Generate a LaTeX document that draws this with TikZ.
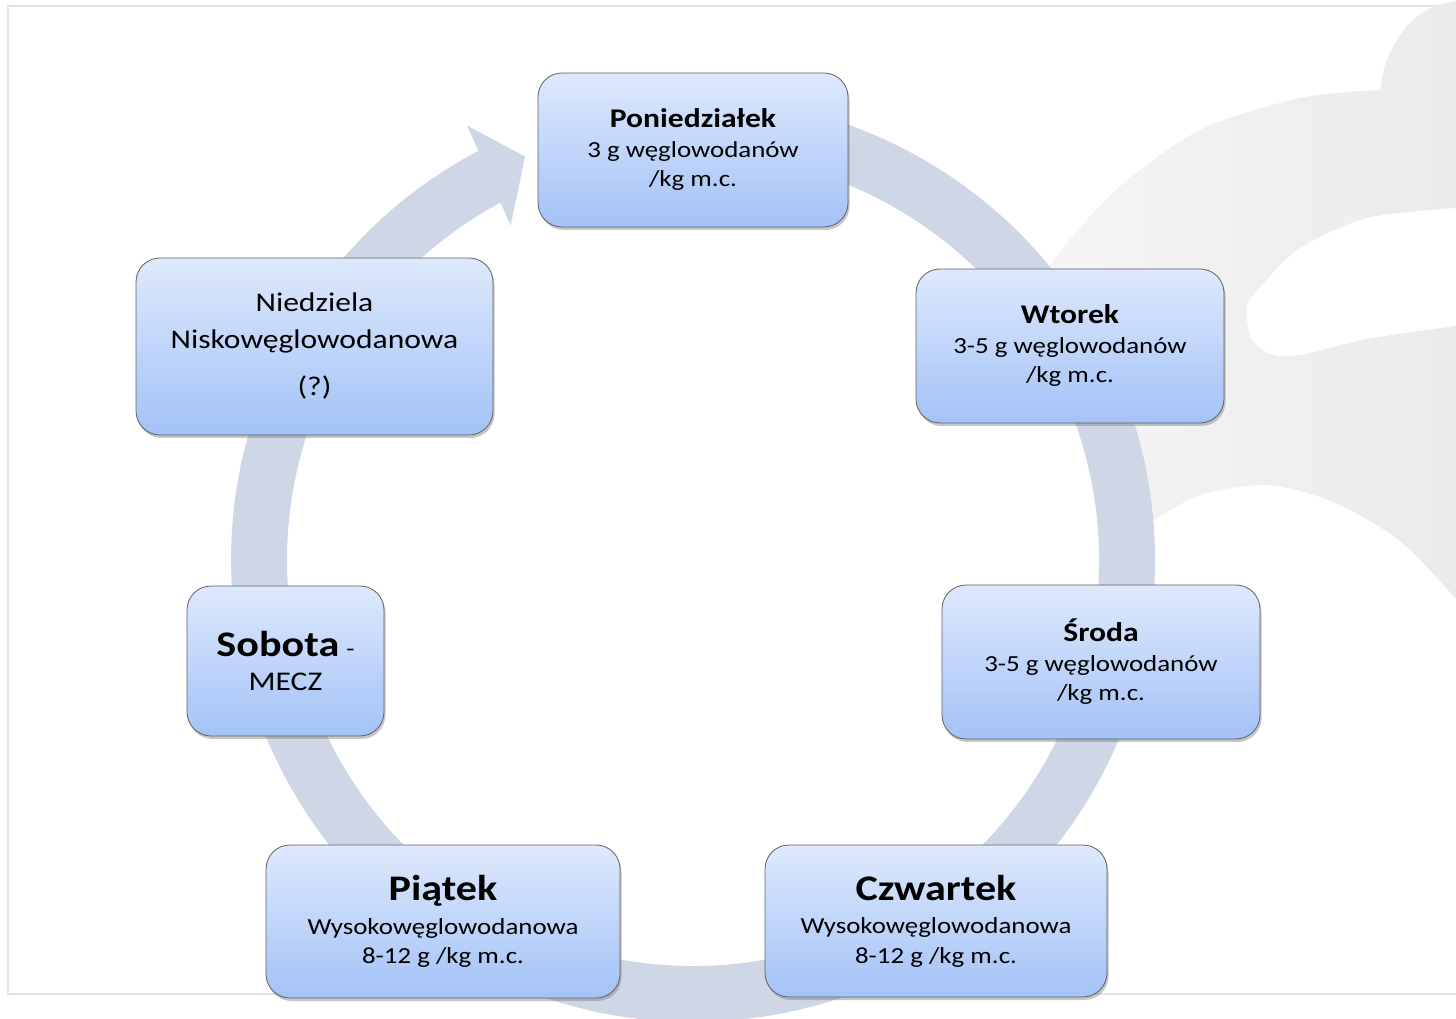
\documentclass[tikz,border=0pt]{standalone}
\usepackage{fontspec}
\setmainfont{Carlito}[FakeStretch=1.17]
\usetikzlibrary{shadows}
\definecolor{boxtop}{RGB}{222,233,252}
\definecolor{boxbot}{RGB}{163,194,247}
\definecolor{ringcol}{RGB}{207,214,229}
\definecolor{markleft}{RGB}{245,245,245}
\definecolor{markright}{RGB}{234,234,234}
\newcommand{\tytul}[1]{{\fontsize{27}{31}\selectfont\bfseries #1}}
\newcommand{\tytulduzy}[1]{{\fontsize{36}{40}\selectfont\bfseries #1}}
\tikzset{
  day/.style={draw=gray!75!black, line width=0.8pt, rounded corners=24pt,
    top color=boxtop, bottom color=boxbot, align=center, inner sep=0pt,
    font=\fontsize{23}{29.5}\selectfont,
    drop shadow={shadow xshift=1.5pt, shadow yshift=-3pt, opacity=0.45}},
  logomark/.style={left color=markleft, right color=markright, even odd rule},
}
\begin{document}
\begin{tikzpicture}[x=1pt,y=1pt]
    \useasboundingbox (0,0) rectangle (1456,1018);
    % frame
    \draw[gray!22, line width=1.5pt] (1470,1012) -- (8,1012) -- (8,24) -- (1470,24);
    % logo in the background, with the white stripe cut out
    \path[logomark] plot[smooth] coordinates {(1040,718) (1053,757) (1117,829) (1200,888) (1300,920) (1380,928)}
        -- plot[smooth] coordinates {(1380,928) (1387,959) (1407,992) (1433,1011) (1470,1020)}
        -- (1470,419) -- plot[smooth] coordinates {(1456,419) (1400,477) (1333,516) (1267,533) (1200,523) (1153,497) (1125,478)}
        -- (1090,598) -- cycle
        (1500,810) -- plot[smooth] coordinates {(1456,810) (1367,800) (1300,770) (1262,733) (1247,712) (1251,680) (1270,664) (1300,663) (1367,679) (1456,692)}
        -- (1500,692) -- cycle;
    % circular arrow
    \begin{scope}[shift={(693,458)}]
        \fill[ringcol] (95:462) arc[start angle=95, end angle=-242.33, radius=462]
            -- (-242.5:490) -- (-247.4:437) -- (-241.4:381) -- (-241.7:406)
            arc[start angle=-241.7, end angle=95, radius=406] -- cycle;
    \end{scope}
    % days
    \node[day, minimum width=310pt, minimum height=154pt] (pon) at (693,868) {\tytul{Poniedziałek}\\3 g węglowodanów\\/kg m.c.};
    \node[day, minimum width=308pt, minimum height=154pt] (wt) at (1070,672) {\tytul{Wtorek}\\3-5 g węglowodanów\\/kg m.c.};
    \node[day, minimum width=318pt, minimum height=154pt] (sr) at (1101,356) {\tytul{Środa}\\3-5 g węglowodanów\\/kg m.c.};
    \node[day, minimum width=342pt, minimum height=152pt] (czw) at (936,97) {\tytulduzy{Czwartek}\\[4pt]Wysokowęglowodanowa\\8-12 g /kg m.c.};
    \node[day, minimum width=354pt, minimum height=153pt] (pt) at (443,96.5) {\tytulduzy{Piątek}\\[4pt]Wysokowęglowodanowa\\8-12 g /kg m.c.};
    \node[day, minimum width=197pt, minimum height=150pt, font=\fontsize{27}{34}\selectfont] (sob) at (285.5,357) {\tytulduzy{Sobota} {\fontsize{23}{28}\selectfont-}\\MECZ};
    \node[day, minimum width=357pt, minimum height=177pt, font=\fontsize{27}{37}\selectfont] (nd) at (314.5,671.5) {Niedziela\\Niskowęglowodanowa\\[10pt](?)};
\end{tikzpicture}
\end{document}
